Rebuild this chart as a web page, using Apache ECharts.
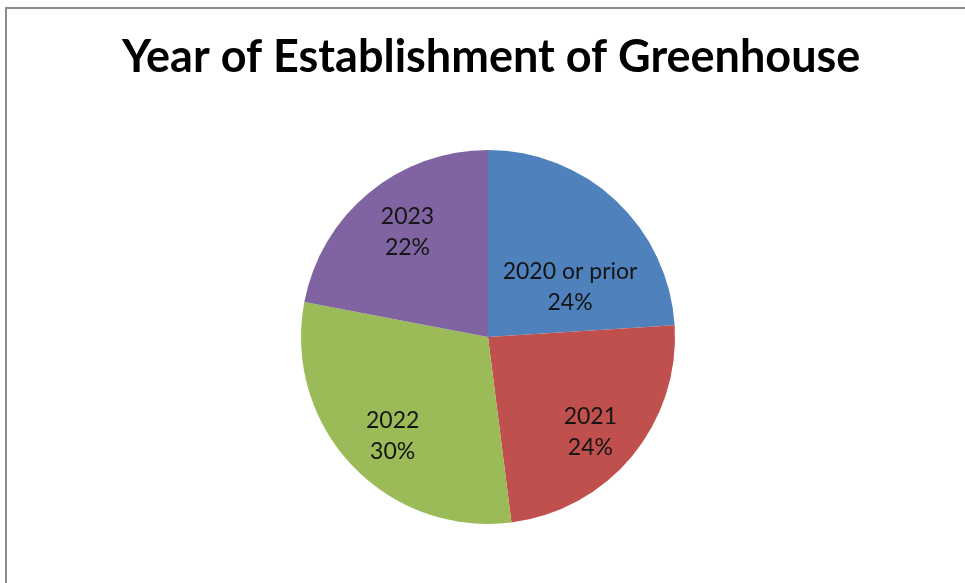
<!DOCTYPE html>
<html>
<head>
<meta charset="utf-8">
<title>Year of Establishment of Greenhouse</title>
<script src="https://cdn.jsdelivr.net/npm/echarts@6/dist/echarts.min.js"></script>
<style>
  html, body { margin: 0; padding: 0; background: #ffffff; }
  #frame {
    position: absolute; left: 5px; top: 7px; width: 980px; height: 600px;
    border: 2px solid #8c8c8c; box-sizing: border-box;
  }
  #chart { position: absolute; left: 0; top: 0; width: 965px; height: 583px; }
</style>
</head>
<body>
<div id="frame"></div>
<div id="chart"></div>
<script>
// Share of greenhouses by year of establishment (percent)
const categories = ['2020 or prior', '2021', '2022', '2023'];
const shares = [24, 24, 30, 22];

const sliceColors = ['#4F81BD', '#C0504D', '#9BBB59', '#8064A2'];
// Nudge each label away from the default mid-radius spot
const labelNudges = [[16, 20], [28, 34], [-25, 33], [-19, -31]];

const chart = echarts.init(document.getElementById('chart'), null, { renderer: 'canvas' });

chart.setOption({
  backgroundColor: 'transparent',
  animation: false,
  title: {
    text: 'Year of Establishment of Greenhouse',
    left: 117,
    top: 30,
    textStyle: {
      fontFamily: 'Lato',
      fontWeight: 'bold',
      fontSize: 45,
      color: '#000000'
    }
  },
  series: [{
    type: 'pie',
    center: [488, 337],
    radius: [0, 187],
    startAngle: 90,
    clockwise: true,
    label: {
      show: true,
      position: 'inside',
      formatter: p => p.name + '\n' + p.value + '%',
      fontFamily: 'Lato',
      fontSize: 23,
      lineHeight: 31,
      color: '#151515'
    },
    labelLine: { show: false },
    itemStyle: { borderWidth: 0 },
    emphasis: { disabled: true },
    data: categories.map((name, i) => ({
      name,
      value: shares[i],
      itemStyle: { color: sliceColors[i] },
      label: { offset: labelNudges[i] }
    }))
  }]
});
</script>
</body>
</html>
